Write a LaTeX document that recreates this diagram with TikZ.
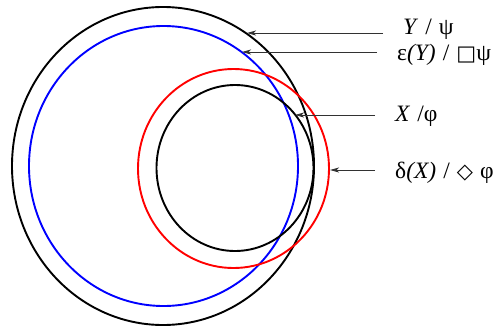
\documentclass[tikz,border=0pt]{standalone}
\usepackage{fontspec}
\setmainfont{Liberation Serif}
\newfontfamily\symfont{DejaVu Sans}
\usetikzlibrary{arrows.meta,positioning,calc}
\definecolor{SetBlue}{RGB}{0,0,255}
\definecolor{SetRed}{RGB}{255,0,0}
\definecolor{ArrGray}{RGB}{50,50,50}
\newcommand{\lblfont}{\fontsize{23.5}{26}\selectfont\spaceskip=0.3em plus 0.1em\relax}
\tikzset{
  setline/.style={line width=1.9pt},
  lbl/.style={anchor=west,inner sep=0pt,font=\lblfont},
  arr/.style={-{Stealth[length=9pt,width=5pt,inset=2.5pt]},ArrGray,line width=0.9pt,shorten <=20pt},
}
\begin{document}
\begin{tikzpicture}[x=1pt,y=-1pt]
            \useasboundingbox (0,0) rectangle (501,327);
            % the four sets
            \draw[setline] (163,166) ellipse [x radius=151, y radius=159];
            \draw[setline,SetBlue] (163.5,166) ellipse [x radius=134.5, y radius=140];
            \draw[setline,SetRed] (233.5,168.5) ellipse [x radius=95.5, y radius=99.5];
            \draw[setline] (235,168) ellipse [x radius=78.5, y radius=83];
            
            % where the arrows hit the curves
            \coordinate (ytip) at (247,33);
            \coordinate (etip) at (242,52);
            \coordinate (xtip) at (295,115);
            \coordinate (dtip) at (330,170);
            
            \node[lbl] (ylab) at (403,29) {\textit{Y} / ψ};
            \node[lbl] (elab) at (397,55) {ε\textit{(Y)} / {\symfont\fontsize{21}{22}\selectfont □}ψ};
            \node[lbl] (xlab) at (395,116) {\textit{X} /φ};
            \node[lbl] (dlab) at (395,173) {δ\textit{(X)} / {\symfont\fontsize{21}{22}\selectfont ◇} φ};
            
            \draw[arr] (ytip -| ylab.west) -- (ytip);
            \draw[arr] (etip -| elab.west) -- (etip);
            \draw[arr] (xtip -| xlab.west) -- (xtip);
            \draw[arr] (dtip -| dlab.west) -- (dtip);
          \end{tikzpicture}
\end{document}
